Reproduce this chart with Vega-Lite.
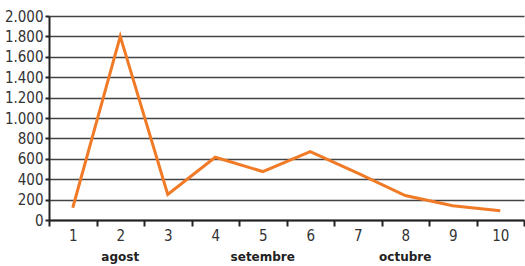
{
  "$schema": "https://vega.github.io/schema/vega-lite/v6.json",
  "width": 525,
  "height": 266,
  "autosize": {"type": "fit", "contains": "padding"},
  "padding": {"left": 4, "top": 9, "right": 0, "bottom": 4},
  "background": "white",
  "config": {
    "view": {"stroke": null},
    "font": "DejaVu Sans Condensed, Liberation Sans, sans-serif",
    "axis": {"labelFont": "DejaVu Sans Condensed, Liberation Sans, sans-serif", "labelColor": "#333333", "labelFontSize": 15}
  },
  "data": {
    "values": [
      {"n": 1, "v": 120},
      {"n": 2, "v": 1800},
      {"n": 3, "v": 250},
      {"n": 4, "v": 615},
      {"n": 5, "v": 475},
      {"n": 6, "v": 670},
      {"n": 7, "v": 460},
      {"n": 8, "v": 240},
      {"n": 9, "v": 140},
      {"n": 10, "v": 90}
    ]
  },
  "layer": [
    {
      "mark": {"type": "line", "color": "#F07A26", "strokeWidth": 3},
      "encoding": {
        "x": {
          "field": "n", "type": "ordinal", "sort": null,
          "scale": {"paddingInner": 0, "paddingOuter": 0},
          "axis": {
            "title": null, "labelAngle": 0, "tickBand": "extent",
            "domainColor": "#222222", "domainWidth": 2,
            "tickColor": "#222222", "tickWidth": 2, "tickSize": 6,
            "labelPadding": 2
          }
        },
        "y": {
          "field": "v", "type": "quantitative",
          "scale": {"domain": [0, 2000]},
          "axis": {
            "title": null, "values": [0,200,400,600,800,1000,1200,1400,1600,1800,2000],
            "labelExpr": "replace(format(datum.value, ','), ',', '.')",
            "domainColor": "#222222", "domainWidth": 2,
            "tickColor": "#222222", "tickWidth": 2, "tickSize": 4,
            "gridColor": "#444444", "gridWidth": 1.5,
            "labelPadding": 2
          }
        }
      }
    },
    {
      "mark": {"type": "point", "opacity": 0},
      "encoding": {
        "x": {
          "field": "n", "type": "ordinal", "sort": null,
          "axis": {
            "title": null, "orient": "bottom", "labelAngle": 0, "domain": false, "ticks": false,
            "labelExpr": "datum.label == '2' ? 'agost' : datum.label == '5' ? 'setembre' : datum.label == '8' ? 'octubre' : ''",
            "labelFont": "DejaVu Sans", "labelFontWeight": "bold", "labelFontSize": 12,
            "labelColor": "#222222", "labelPadding": 31
          }
        }
      }
    }
  ],
  "resolve": {"axis": {"x": "independent"}}
}
